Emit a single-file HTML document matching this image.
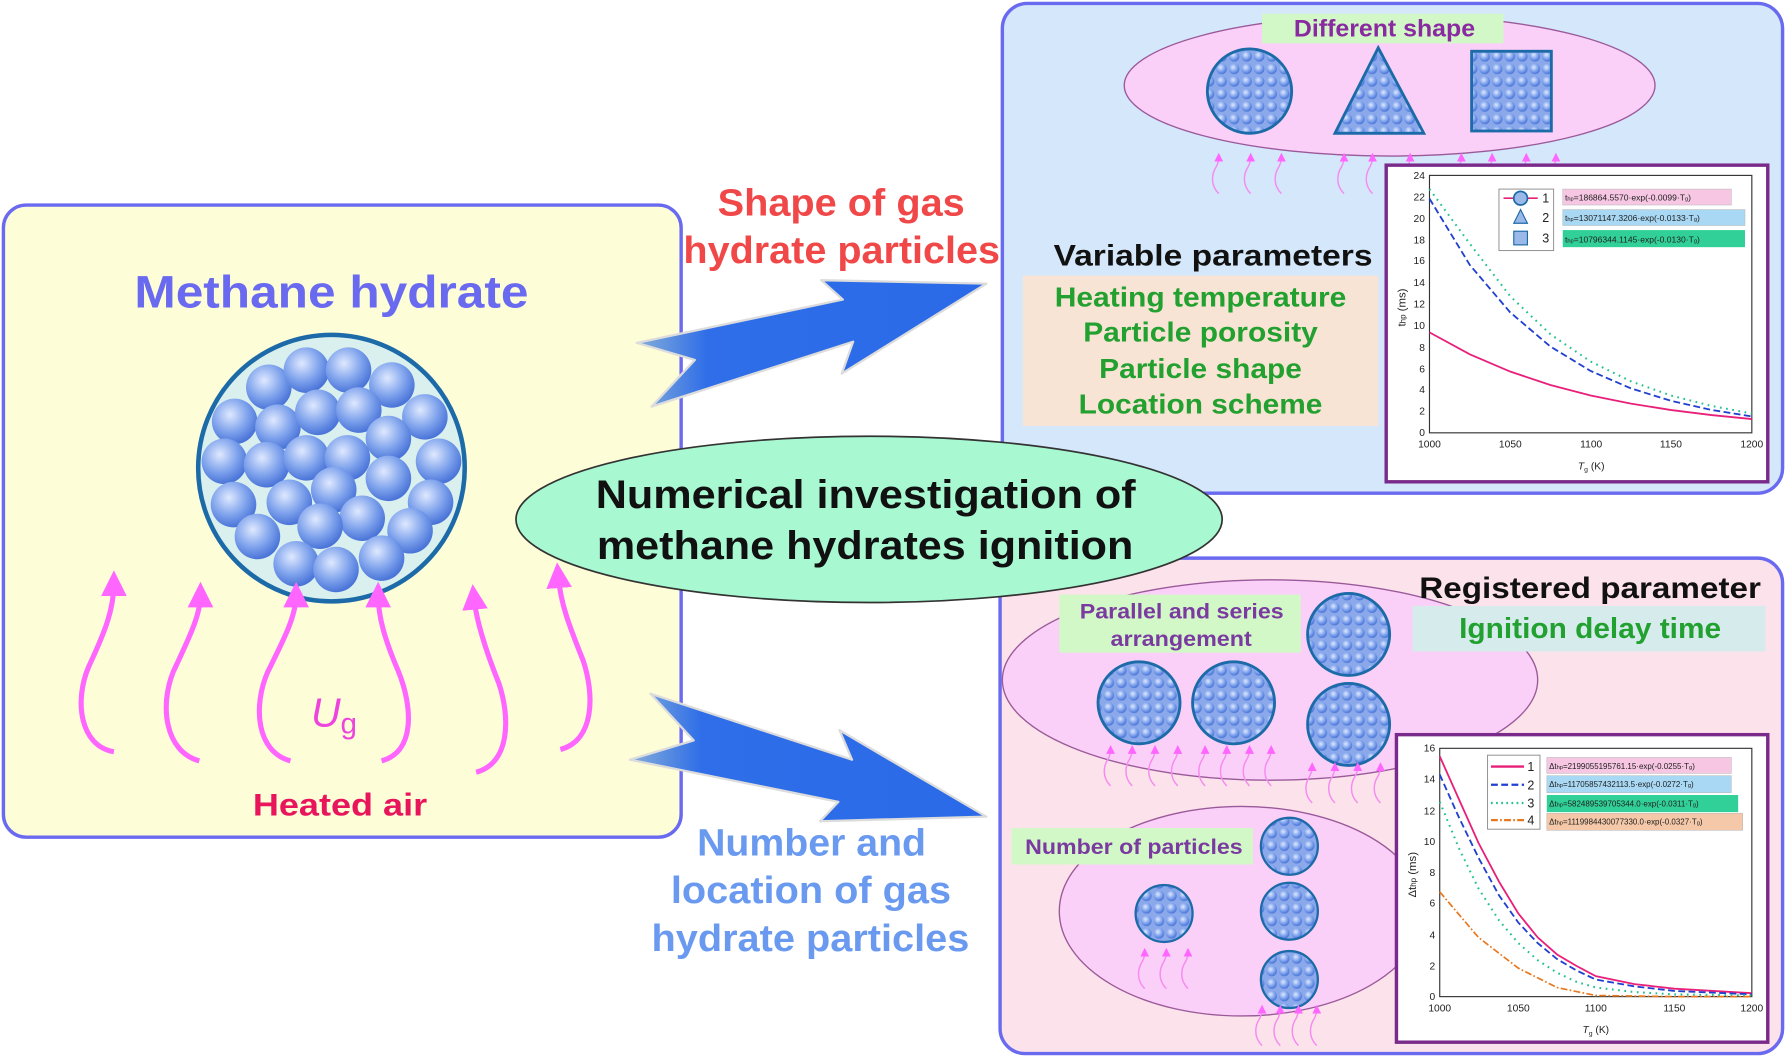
<!DOCTYPE html>
<html><head><meta charset="utf-8"><style>
html,body{margin:0;padding:0;background:#fff;}
svg{display:block;font-family:"Liberation Sans",Arial,sans-serif;}
</style></head><body>
<svg width="1786" height="1057" viewBox="0 0 1568 928" preserveAspectRatio="none" xmlns="http://www.w3.org/2000/svg">
<defs>
<radialGradient id="sph" cx="0.4" cy="0.35" r="0.65">
<stop offset="0" stop-color="#dfe9ff"/><stop offset="0.6" stop-color="#7ea2ec"/><stop offset="1" stop-color="#4a74d8"/>
</radialGradient>
<pattern id="pb" width="11" height="11" patternUnits="userSpaceOnUse">
<rect width="11" height="11" fill="#8aa8ea"/><circle cx="5.5" cy="5.5" r="4.6" fill="url(#sph)"/>
</pattern>
<linearGradient id="arrg" x1="0" y1="0" x2="1" y2="0">
<stop offset="0" stop-color="#86aed8"/><stop offset="0.2" stop-color="#2f6ee8"/><stop offset="1" stop-color="#2a6ae8"/>
</linearGradient>
<marker id="mh" viewBox="0 0 10 10" refX="5" refY="5" markerWidth="5" markerHeight="5" orient="auto"><path d="M0,0 L10,5 L0,10 z" fill="#ff66ff"/></marker>
<marker id="ms" viewBox="0 0 10 10" refX="5" refY="5" markerWidth="6" markerHeight="6" orient="auto"><path d="M0,0 L10,5 L0,10 z" fill="#ff66ff"/></marker>
<g id="sa"><path d="M0,30 C-8,22 -6,12 -2,6 C0,2 0,0 0,-2" fill="none" stroke="#f58cf0" stroke-width="1.3" marker-end="url(#ms)"/></g>
</defs>

<!-- left box -->
<rect x="3" y="180" width="595" height="555" rx="20" fill="#fdfdd8" stroke="#6a6af0" stroke-width="3"/>
<text x="118" y="270" textLength="346" lengthAdjust="spacingAndGlyphs" font-size="40" font-weight="bold" fill="#6a6af0">Methane hydrate</text>
<circle cx="291" cy="411" r="117" fill="#d9f0ee" stroke="#1c6aa8" stroke-width="4"/>
<g fill="url(#sph)">
<circle cx="236" cy="340" r="20"/><circle cx="269" cy="325" r="20"/><circle cx="306" cy="325" r="20"/><circle cx="344" cy="338" r="20"/>
<circle cx="373" cy="366" r="20"/><circle cx="206" cy="370" r="20"/><circle cx="244" cy="375" r="20"/><circle cx="279" cy="362" r="20"/>
<circle cx="315" cy="360" r="20"/><circle cx="341" cy="385" r="20"/><circle cx="385" cy="405" r="20"/><circle cx="197" cy="405" r="20"/>
<circle cx="234" cy="408" r="20"/><circle cx="269" cy="402" r="20"/><circle cx="305" cy="402" r="20"/><circle cx="341" cy="420" r="20"/>
<circle cx="378" cy="441" r="20"/><circle cx="205" cy="443" r="20"/><circle cx="254" cy="441" r="20"/><circle cx="293" cy="430" r="20"/>
<circle cx="318" cy="455" r="20"/><circle cx="360" cy="466" r="20"/><circle cx="226" cy="471" r="20"/><circle cx="281" cy="462" r="20"/>
<circle cx="260" cy="495" r="20"/><circle cx="295" cy="500" r="20"/><circle cx="335" cy="490" r="20"/>
</g>
<g fill="none" stroke="#ff66ff" stroke-width="4.5" marker-end="url(#mh)">
<path d="M100,660 C70,655 65,615 78,585 C92,555 100,535 100,512"/>
<path d="M175,668 C145,660 140,620 152,590 C166,560 176,540 176,522"/>
<path d="M255,668 C225,660 222,620 235,590 C250,560 260,540 260,522"/>
<path d="M335,668 C365,660 362,620 350,590 C337,560 332,540 332,522"/>
<path d="M418,678 C448,670 448,630 438,600 C426,570 418,545 416,524"/>
<path d="M492,658 C522,650 522,610 512,580 C500,550 492,530 490,505"/>
</g>
<text x="273" y="638" font-size="36" font-style="italic" fill="#ee44dd">U<tspan font-size="26" font-style="normal" dy="6">g</tspan></text>
<text x="222" y="716" textLength="153" lengthAdjust="spacingAndGlyphs" font-size="28" font-weight="bold" fill="#e8145c">Heated air</text>

<!-- top right box -->
<rect x="880" y="3" width="685" height="430" rx="22" fill="#d5e8fb" stroke="#6a6af0" stroke-width="3"/>
<ellipse cx="1220" cy="75" rx="233" ry="62" fill="#fbd0f8" stroke="#9a5a9a" stroke-width="1.2"/>
<rect x="1108" y="12" width="212" height="26" fill="#d2f8c8"/>
<text x="1136" y="32" textLength="159" lengthAdjust="spacingAndGlyphs" font-size="21" font-weight="bold" fill="#8a2aa0">Different shape</text>
<circle cx="1097" cy="80" r="37" fill="url(#pb)" stroke="#1c6aa8" stroke-width="2.5"/>
<polygon points="1210,42 1250,117 1172,117" fill="url(#pb)" stroke="#1c6aa8" stroke-width="2.5"/>
<rect x="1292" y="45" width="70" height="70" fill="url(#pb)" stroke="#1c6aa8" stroke-width="2.5"/>
<use href="#sa" x="1070" y="140"/><use href="#sa" x="1098" y="140"/><use href="#sa" x="1125" y="140"/>
<use href="#sa" x="1180" y="140"/><use href="#sa" x="1205" y="140"/><use href="#sa" x="1238" y="140"/>
<use href="#sa" x="1283" y="140"/><use href="#sa" x="1310" y="140"/><use href="#sa" x="1340" y="140"/><use href="#sa" x="1366" y="140"/>
<text x="925" y="233" textLength="280" lengthAdjust="spacingAndGlyphs" font-size="26" font-weight="bold" fill="#111">Variable parameters</text>
<rect x="898" y="242" width="312" height="132" fill="#f8e4d4"/>
<g font-size="24" font-weight="bold" fill="#22a030">
<text x="926" y="269" textLength="256" lengthAdjust="spacingAndGlyphs">Heating temperature</text>
<text x="951" y="300" textLength="206" lengthAdjust="spacingAndGlyphs">Particle porosity</text>
<text x="965" y="332" textLength="178" lengthAdjust="spacingAndGlyphs">Particle shape</text>
<text x="947" y="363" textLength="214" lengthAdjust="spacingAndGlyphs">Location scheme</text>
</g>
<!-- chart top -->
<rect x="1217" y="145" width="335" height="278" fill="#fff" stroke="#7a2a8a" stroke-width="3"/>
<rect x="1255" y="154" width="283" height="226" fill="none" stroke="#333" stroke-width="1"/>
<g font-size="9" fill="#222" text-anchor="end">
<text x="1251" y="383">0</text><text x="1251" y="364">2</text><text x="1251" y="345">4</text><text x="1251" y="327">6</text>
<text x="1251" y="308">8</text><text x="1251" y="289">10</text><text x="1251" y="270">12</text><text x="1251" y="251">14</text>
<text x="1251" y="232">16</text><text x="1251" y="214">18</text><text x="1251" y="195">20</text><text x="1251" y="176">22</text><text x="1251" y="157">24</text>
</g>
<g font-size="9" fill="#222" text-anchor="middle">
<text x="1255" y="393">1000</text><text x="1326" y="393">1050</text><text x="1397" y="393">1100</text><text x="1467" y="393">1150</text><text x="1538" y="393">1200</text>
<text x="1397" y="412"><tspan font-style="italic">T</tspan><tspan font-size="6" dy="2">g</tspan><tspan dy="-2"> (K)</tspan></text>
</g>
<text x="1234" y="270" font-size="10" fill="#222" transform="rotate(-90 1234 270)" text-anchor="middle">t<tspan font-size="7">hp</tspan> (ms)</text>
<polyline fill="none" stroke="#e8207a" stroke-width="1.6" points="1255,291.8 1290.4,311.1 1325.8,326.2 1361.1,338 1396.5,347.2 1431.9,354.4 1467.3,360 1502.6,364.4 1538,367.9"/>
<polyline fill="none" stroke="#2040d0" stroke-width="1.6" stroke-dasharray="6,3" points="1255,174.4 1290.4,232.6 1325.8,274.2 1361.1,304.2 1396.5,325.7 1431.9,341 1467.3,352 1502.6,359.9 1538,365.6"/>
<polyline fill="none" stroke="#20c090" stroke-width="1.8" stroke-dasharray="1.5,4" points="1255,166 1290.4,214 1325.8,260 1361.1,293.4 1396.5,317.4 1431.9,334.8 1467.3,347.3 1502.6,356.4 1538,363"/>
<rect x="1316" y="166" width="48" height="54" fill="#fff" stroke="#888" stroke-width="0.8"/>
<line x1="1320" y1="174" x2="1350" y2="174" stroke="#e8207a" stroke-width="1.5"/><circle cx="1335" cy="174" r="6" fill="#9ab8e8" stroke="#1c6aa8" stroke-width="1.5"/>
<polygon points="1335,184 1341,196 1329,196" fill="#9ab8e8" stroke="#1c6aa8"/>
<rect x="1329" y="203" width="12" height="12" fill="#9ab8e8" stroke="#1c6aa8"/>
<g font-size="11" fill="#222"><text x="1354" y="178">1</text><text x="1354" y="195">2</text><text x="1354" y="213">3</text></g>
<g font-size="7.5" fill="#222">
<rect x="1372" y="166" width="148" height="14" fill="#f6c6e2" stroke="#bbb" stroke-width="0.5"/><text x="1374" y="176">t<tspan font-size="5">hp</tspan>=186864.5570·exp(-0.0099·T<tspan font-size="5">g</tspan>)</text>
<rect x="1372" y="184" width="160" height="14" fill="#a8d8f4" stroke="#bbb" stroke-width="0.5"/><text x="1374" y="194">t<tspan font-size="5">hp</tspan>=13071147.3206·exp(-0.0133·T<tspan font-size="5">g</tspan>)</text>
<rect x="1372" y="202" width="160" height="15" fill="#30d098"/><text x="1374" y="213">t<tspan font-size="5">hp</tspan>=10796344.1145·exp(-0.0130·T<tspan font-size="5">g</tspan>)</text>
</g>

<!-- bottom right box -->
<rect x="878" y="490" width="687" height="435" rx="22" fill="#fce2ea" stroke="#6a6af0" stroke-width="3"/>
<ellipse cx="1115" cy="597" rx="235" ry="88" fill="#fbd0f8" stroke="#9a5a9a" stroke-width="1.2"/>
<ellipse cx="1090" cy="800" rx="160" ry="92" fill="#fbd0f8" stroke="#9a5a9a" stroke-width="1.2"/>
<text x="1246" y="525" textLength="300" lengthAdjust="spacingAndGlyphs" font-size="26" font-weight="bold" fill="#111">Registered parameter</text>
<rect x="1240" y="532" width="310" height="40" fill="#d6ecec"/>
<text x="1281" y="560" textLength="230" lengthAdjust="spacingAndGlyphs" font-size="25" font-weight="bold" fill="#22a030">Ignition delay time</text>
<rect x="930" y="522" width="212" height="51" fill="#d2f8c8"/>
<g font-size="19" font-weight="bold" fill="#7a3aa0">
<text x="948" y="543" textLength="179" lengthAdjust="spacingAndGlyphs">Parallel and series</text>
<text x="975" y="567" textLength="124" lengthAdjust="spacingAndGlyphs">arrangement</text></g>
<circle cx="1184" cy="557" r="36" fill="url(#pb)" stroke="#1c6aa8" stroke-width="2.5"/>
<circle cx="1000" cy="617" r="36" fill="url(#pb)" stroke="#1c6aa8" stroke-width="2.5"/>
<circle cx="1083" cy="617" r="36" fill="url(#pb)" stroke="#1c6aa8" stroke-width="2.5"/>
<circle cx="1184" cy="636" r="36" fill="url(#pb)" stroke="#1c6aa8" stroke-width="2.5"/>
<use href="#sa" x="975" y="660"/><use href="#sa" x="994" y="660"/><use href="#sa" x="1014" y="660"/><use href="#sa" x="1034" y="660"/>
<use href="#sa" x="1058" y="660"/><use href="#sa" x="1077" y="660"/><use href="#sa" x="1097" y="660"/><use href="#sa" x="1116" y="660"/>
<use href="#sa" x="1152" y="675"/><use href="#sa" x="1172" y="675"/><use href="#sa" x="1192" y="675"/><use href="#sa" x="1212" y="675"/>
<rect x="888" y="727" width="212" height="32" fill="#d2f8c8"/>
<text x="900" y="750" textLength="191" lengthAdjust="spacingAndGlyphs" font-size="19" font-weight="bold" fill="#7a3aa0">Number of particles</text>
<circle cx="1132" cy="743" r="25" fill="url(#pb)" stroke="#1c6aa8" stroke-width="2"/>
<circle cx="1022" cy="802" r="25" fill="url(#pb)" stroke="#1c6aa8" stroke-width="2"/>
<circle cx="1132" cy="800" r="25" fill="url(#pb)" stroke="#1c6aa8" stroke-width="2"/>
<circle cx="1132" cy="860" r="25" fill="url(#pb)" stroke="#1c6aa8" stroke-width="2"/>
<use href="#sa" x="1005" y="838"/><use href="#sa" x="1024" y="838"/><use href="#sa" x="1043" y="838"/>
<use href="#sa" x="1108" y="888"/><use href="#sa" x="1124" y="888"/><use href="#sa" x="1140" y="888"/><use href="#sa" x="1156" y="888"/>
<!-- chart bottom -->
<rect x="1226" y="645" width="326" height="270" fill="#fff" stroke="#7a2a8a" stroke-width="3"/>
<rect x="1264" y="657" width="274" height="218" fill="none" stroke="#333" stroke-width="1"/>
<g font-size="9" fill="#222" text-anchor="end">
<text x="1260" y="878">0</text><text x="1260" y="851">2</text><text x="1260" y="824">4</text><text x="1260" y="796">6</text>
<text x="1260" y="769">8</text><text x="1260" y="742">10</text><text x="1260" y="715">12</text><text x="1260" y="687">14</text><text x="1260" y="660">16</text>
</g>
<g font-size="9" fill="#222" text-anchor="middle">
<text x="1264" y="888">1000</text><text x="1333" y="888">1050</text><text x="1401" y="888">1100</text><text x="1470" y="888">1150</text><text x="1538" y="888">1200</text>
<text x="1401" y="907"><tspan font-style="italic">T</tspan><tspan font-size="6" dy="2">g</tspan><tspan dy="-2"> (K)</tspan></text>
</g>
<text x="1243" y="768" font-size="10" fill="#222" transform="rotate(-90 1243 768)" text-anchor="middle">Δt<tspan font-size="7">hp</tspan> (ms)</text>
<polyline fill="none" stroke="#e8207a" stroke-width="1.6" points="1264,664 1281,702 1298,740 1316,774 1333,802 1350,823 1367,838 1384,848 1401,857 1435,864 1470,868 1538,872"/>
<polyline fill="none" stroke="#2040d0" stroke-width="1.6" stroke-dasharray="6,3" points="1264,680 1281,718 1298,753 1316,786 1333,810 1350,828 1367,842 1384,852 1401,860 1435,866 1470,870 1538,873"/>
<polyline fill="none" stroke="#20c090" stroke-width="1.8" stroke-dasharray="1.5,4" points="1264,704 1281,745 1298,780 1316,808 1333,828 1350,843 1367,854 1384,862 1401,867 1435,871 1470,873 1538,874"/>
<polyline fill="none" stroke="#e87820" stroke-width="1.5" stroke-dasharray="6,2,1.5,2" points="1264,783 1298,823 1333,850 1367,867 1401,874 1470,875 1538,875"/>
<rect x="1306" y="663" width="46" height="65" fill="#fff" stroke="#888" stroke-width="0.8"/>
<line x1="1309" y1="673" x2="1338" y2="673" stroke="#e8207a" stroke-width="2"/>
<line x1="1309" y1="689" x2="1338" y2="689" stroke="#2040d0" stroke-width="2" stroke-dasharray="6,3"/>
<line x1="1309" y1="705" x2="1338" y2="705" stroke="#20c090" stroke-width="2" stroke-dasharray="1.5,3"/>
<line x1="1309" y1="720" x2="1338" y2="720" stroke="#e87820" stroke-width="2" stroke-dasharray="6,2,1.5,2"/>
<g font-size="11" fill="#222"><text x="1341" y="677">1</text><text x="1341" y="693">2</text><text x="1341" y="709">3</text><text x="1341" y="724">4</text></g>
<g font-size="7" fill="#222">
<rect x="1358" y="665" width="162" height="14" fill="#f6c6e2" stroke="#bbb" stroke-width="0.5"/><text x="1360" y="675">Δt<tspan font-size="5">hp</tspan>=2199055195761.15·exp(-0.0255·T<tspan font-size="5">g</tspan>)</text>
<rect x="1358" y="681" width="162" height="15" fill="#a8d8f4" stroke="#bbb" stroke-width="0.5"/><text x="1360" y="691">Δt<tspan font-size="5">hp</tspan>=11705857432113.5·exp(-0.0272·T<tspan font-size="5">g</tspan>)</text>
<rect x="1358" y="698" width="168" height="15" fill="#30d098"/><text x="1360" y="708">Δt<tspan font-size="5">hp</tspan>=582489539705344.0·exp(-0.0311·T<tspan font-size="5">g</tspan>)</text>
<rect x="1358" y="714" width="172" height="15" fill="#f4c8a8" stroke="#bbb" stroke-width="0.5"/><text x="1360" y="724">Δt<tspan font-size="5">hp</tspan>=1119984430077330.0·exp(-0.0327·T<tspan font-size="5">g</tspan>)</text>
</g>

<!-- big arrows -->
<polygon points="559,301 740,263 721,246 866,249 739,328 749,300 572,357 610,316" fill="url(#arrg)" stroke="#dcdcdc" stroke-width="2" stroke-linejoin="round"/>
<polygon points="571,609 748,667 737,641 866,717 720,721 736,704 553,667 609,650" fill="url(#arrg)" stroke="#dcdcdc" stroke-width="2" stroke-linejoin="round"/>
<g font-size="33" font-weight="bold">
<text x="630" y="189" textLength="217" lengthAdjust="spacingAndGlyphs" fill="#f04848">Shape of gas</text>
<text x="600" y="231" textLength="278" lengthAdjust="spacingAndGlyphs" fill="#f04848">hydrate particles</text>
<text x="612" y="751" textLength="201" lengthAdjust="spacingAndGlyphs" fill="#6a9af0">Number and</text>
<text x="589" y="793" textLength="246" lengthAdjust="spacingAndGlyphs" fill="#6a9af0">location of gas</text>
<text x="572" y="835" textLength="279" lengthAdjust="spacingAndGlyphs" fill="#6a9af0">hydrate particles</text>
</g>

<!-- centre ellipse -->
<ellipse cx="763" cy="456" rx="310" ry="73" fill="#a8f8d2" stroke="#333" stroke-width="1.5"/>
<g font-size="35" font-weight="bold" fill="#111">
<text x="523" y="446" textLength="474" lengthAdjust="spacingAndGlyphs">Numerical investigation of</text>
<text x="524" y="491" textLength="471" lengthAdjust="spacingAndGlyphs">methane hydrates ignition</text>
</g>
</svg>
</body></html>
